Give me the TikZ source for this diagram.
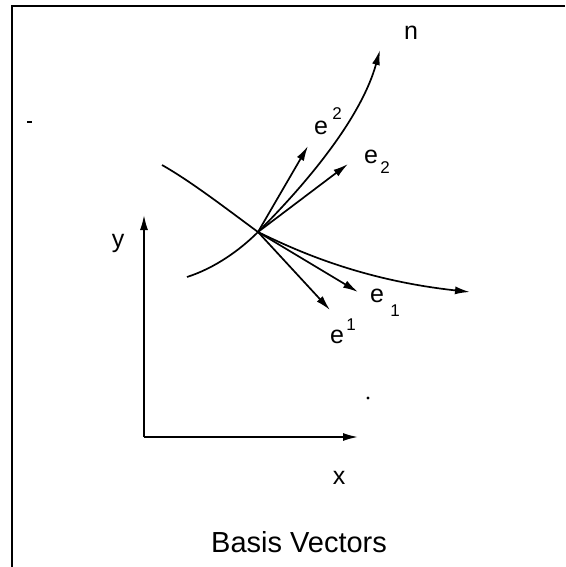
\documentclass[tikz,border=0pt]{standalone}
\usepackage{fontspec}
\setmainfont{Liberation Sans}
\usetikzlibrary{arrows.meta}
\begin{document}
\begin{tikzpicture}[x=1pt,y=-1pt,
  curve/.style={line width=1.7pt,-{Latex[length=15pt,width=8pt]}},
  vec/.style={line width=1.7pt,-{Latex[length=15pt,width=8pt]}},
  lbl/.style={inner sep=0pt,font=\fontsize{25}{25}\selectfont},
  idx/.style={inner sep=0pt,font=\fontsize{17}{17}\selectfont},
  frame/.style={line width=2.6pt}]
\useasboundingbox (0,0) rectangle (565,567);
% frame
\coordinate (F1) at (12,567);
\coordinate (F2) at (12,6);
\coordinate (F3) at (565,6);
\draw[frame] (F1) -- (F2) -- (F3);
% points
\coordinate (P) at (258,232);
\coordinate (A) at (187,277);
\coordinate (N) at (380,50);
\coordinate (B) at (162,165);
\coordinate (C) at (470,292);
\coordinate (E2u) at (308,146);
\coordinate (E2d) at (348,164);
\coordinate (E1d) at (358,292);
\coordinate (E1u) at (330,310);
\coordinate (O) at (144,437);
\coordinate (Y) at (144,215);
\coordinate (X) at (358,437);
% curves
\draw[curve] (A) .. controls (215,268) and (240,250) .. (P)
  .. controls (300,190) and (360,122) .. (N);
\draw[curve] (B) .. controls (192,182) and (228,210) .. (P)
  .. controls (295,250) and (360,280) .. (C);
% vectors
\draw[vec] (P) -- (E2u);
\draw[vec] (P) -- (E2d);
\draw[vec] (P) -- (E1d);
\draw[vec] (P) -- (E1u);
% axes
\draw[vec] (O) -- (Y);
\draw[vec] (O) -- (X);
% labels
\node[lbl] (ln) at (411,33) {n};
\node[lbl] (le2u) at (321,128) {e};
\node[idx] (le2ui) at (337,114) {2};
\node[lbl] (le2d) at (371,157) {e};
\node[idx] (le2di) at (385,168) {2};
\node[lbl] (le1d) at (377,296) {e};
\node[idx] (le1di) at (395,311) {1};
\node[lbl] (le1u) at (337,337) {e};
\node[idx] (le1ui) at (351,325) {1};
\node[lbl] (ly) at (118,243) {y};
\node[lbl] (lx) at (339,478) {x};
\node[inner sep=0pt,font=\fontsize{29}{29}\selectfont] (title) at (299,542) {Basis Vectors};
% specks
\fill (26.5,121) rectangle (31.5,123.5);
\fill (368,398) circle (1.7);
\end{tikzpicture}
\end{document}
